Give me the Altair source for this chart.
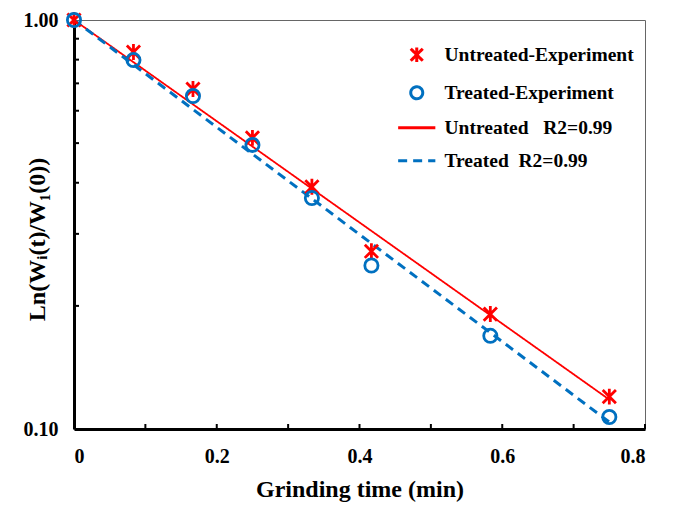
import altair as alt
import pandas as pd

# ---- data ----
time_exp = [0.0, 0.0833, 0.1667, 0.25, 0.3333, 0.4167, 0.5833, 0.75]
untreated_exp = [1.0, 0.835, 0.678, 0.515, 0.391, 0.272, 0.191, 0.120]
treated_exp = [1.0, 0.798, 0.652, 0.495, 0.367, 0.251, 0.169, 0.107]
fit_time = [0.0, 0.75]
untreated_fit = [1.0, 0.118]
treated_fit = [1.0, 0.104]

series_names = [
    "Untreated-Experiment",
    "Treated-Experiment",
    "Untreated\u00a0\u00a0\u00a0R2=0.99",
    "Treated\u00a0\u00a0R2=0.99",
]
series_colors = ["#FF0000", "#0070C0", "#FF0000", "#0070C0"]
series_shapes = [
    "M-1,-1L1,1M-1,1L1,-1M0,-1.2L0,1.2",
    "circle",
    "M-3.1,0L3.1,0",
    "M-3.1,0L3.1,0",
]
series_dash = [[1, 0], [1, 0], [1, 0], [9, 6]]

x_tick_values = [0.1, 0.2, 0.3, 0.4, 0.5, 0.6, 0.7, 0.8]
x_label_values = [0.0, 0.1, 0.2, 0.3, 0.4, 0.5, 0.6, 0.7, 0.8]
y_label_values = [0.1, 1.0]
y_minor_ticks = [0.2, 0.3, 0.4, 0.5, 0.6, 0.7, 0.8, 0.9]

# ---- tables ----
pts = pd.DataFrame(
    {
        "time": time_exp + time_exp,
        "value": untreated_exp + treated_exp,
        "series": [series_names[0]] * len(time_exp) + [series_names[1]] * len(time_exp),
    }
)
fits = pd.DataFrame(
    {
        "time": fit_time + fit_time,
        "value": untreated_fit + treated_fit,
        "series": [series_names[2]] * len(fit_time) + [series_names[3]] * len(fit_time),
    }
)
xt = pd.DataFrame({"time": x_tick_values})
yt = pd.DataFrame({"value": y_minor_ticks})

FONT = "Liberation Serif"

x_scale = alt.Scale(domain=[0, 0.8], nice=False, zero=False)
y_scale = alt.Scale(type="log", domain=[0.1, 1.0], nice=False)

x_enc = alt.X(
    "time:Q",
    scale=x_scale,
    axis=alt.Axis(
        title="Grinding time (min)",
        values=x_label_values,
        labelExpr="round(datum.value*10) % 2 == 0 ? format(datum.value, '.1~f') : ''",
        ticks=False,
        grid=False,
        labelPadding=17,
        titleY=60,
        titleBaseline="middle",
    ),
)
y_enc = alt.Y(
    "value:Q",
    scale=y_scale,
    axis=alt.Axis(
        title="Ln(Wᵢ(t)/W₁(0))",
        values=y_label_values,
        format=".2f",
        ticks=False,
        grid=False,
        labelPadding=16,
        titleX=-37,
        titleY=219,
        titleBaseline="middle",
    ),
)

LEG = dict(title=None, orient="none", legendX=333, legendY=25)
color_enc = alt.Color(
    "series:N",
    scale=alt.Scale(domain=series_names, range=series_colors),
    legend=alt.Legend(**LEG),
)
shape_enc = alt.Shape(
    "series:N",
    scale=alt.Scale(domain=series_names, range=series_shapes),
    legend=alt.Legend(**LEG),
)
dash_enc = alt.StrokeDash(
    "series:N",
    scale=alt.Scale(domain=series_names, range=series_dash),
    legend=alt.Legend(**LEG),
)

lines = (
    alt.Chart(fits)
    .mark_line()
    .encode(
        x=x_enc,
        y=y_enc,
        color=color_enc,
        strokeDash=dash_enc,
        strokeWidth=alt.StrokeWidth(
            "series:N",
            scale=alt.Scale(domain=series_names[2:], range=[1.8, 3]),
            legend=None,
        ),
    )
)

points = (
    alt.Chart(pts)
    .mark_point(filled=False, size=175, strokeWidth=2.8, opacity=1)
    .encode(x="time:Q", y="value:Q", color=color_enc, shape=shape_enc)
)

x_ticks = (
    alt.Chart(xt)
    .mark_rule(color="black", strokeWidth=2)
    .encode(x="time:Q", y=alt.value(409), y2=alt.value(404))
)
y_ticks = (
    alt.Chart(yt)
    .mark_rule(color="black", strokeWidth=2)
    .encode(y="value:Q", x=alt.value(0), x2=alt.value(5))
)

chart = (
    alt.layer(lines, points, x_ticks, y_ticks)
    .properties(
        width=571,
        height=409,
        autosize=alt.AutoSizeParams(type="none"),
        padding={"left": 66, "top": 12, "right": 22, "bottom": 78},
    )
    .configure_view(stroke="#666666", strokeWidth=1)
    .configure_axis(
        domainColor="black",
        domainWidth=3,
        labelFont=FONT,
        labelFontWeight="bold",
        labelFontSize=20,
        labelColor="black",
        titleFont=FONT,
        titleFontWeight="bold",
        titleFontSize=24,
        titleColor="black",
    )
    .configure_legend(
        labelFont=FONT,
        labelFontWeight="bold",
        labelFontSize=19.5,
        labelColor="black",
        labelLimit=400,
        symbolStrokeWidth=3,
        symbolSize=144,
        rowPadding=12,
        labelOffset=18,
        padding=0,
    )
)

chart.save("out.html", embed_options={"renderer": "svg", "actions": False})
